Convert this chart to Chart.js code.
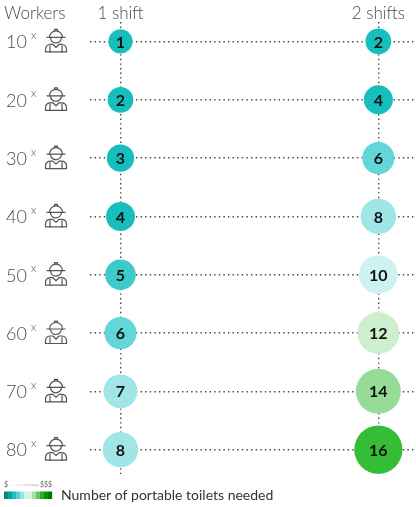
<!DOCTYPE html>
<html>
<head>
<meta charset="utf-8">
<script src="https://cdn.jsdelivr.net/npm/chart.js@4/dist/chart.umd.min.js"></script>
<style>
  html, body { margin: 0; padding: 0; background: #fff; }
  #wrap { width: 416px; height: 507px; }
</style>
</head>
<body>
<div id="wrap"><canvas id="chart" width="416" height="507"></canvas></div>
<script>
const workers = [10, 20, 30, 40, 50, 60, 70, 80];
const shifts = ['1 shift', '2 shifts'];
const toiletsOneShift = [1, 2, 3, 4, 5, 6, 7, 8];
const toiletsTwoShifts = [2, 4, 6, 8, 10, 12, 14, 16];

// colour steps of the legend scale
function fillFor(v) {
  if (v <= 4) return '#17bebe';
  if (v <= 5) return '#3ecaca';
  if (v <= 6) return '#63d7d7';
  if (v <= 8) return '#a0e6e6';
  if (v <= 10) return '#cdf2f2';
  if (v <= 12) return '#cdefcd';
  if (v <= 14) return '#96dc96';
  return '#35bd35';
}
const radiusFor = v => 11.3 + 0.8 * v;
const legendStripes = ['#008a8a', '#00a6a6', '#20bcbc', '#5ccfcf', '#9fe2e2', '#d4f3f3',
  '#d8f2d8', '#a6e0a6', '#62c862', '#27ad27', '#0b930b', '#007a00'];

function makeDataset(col, values) {
  return {
    label: shifts[col - 1],
    data: workers.map((w, i) => ({ x: col, y: w, v: values[i] })),
    pointRadius: values.map(radiusFor),
    pointHoverRadius: values.map(radiusFor),
    pointBackgroundColor: values.map(fillFor),
    pointBorderWidth: 0,
    showLine: false
  };
}

function drawWorker(ctx, cx, cy) {
  ctx.save();
  ctx.strokeStyle = '#555';
  ctx.lineWidth = 1.2;
  ctx.lineJoin = 'round';
  ctx.lineCap = 'round';
  // helmet
  ctx.beginPath();
  ctx.arc(cx, cy - 4, 6.5, Math.PI, 0);
  ctx.stroke();
  ctx.beginPath();
  ctx.moveTo(cx - 1.5, cy - 10.5); ctx.lineTo(cx - 1.5, cy - 12); ctx.lineTo(cx + 1.5, cy - 12); ctx.lineTo(cx + 1.5, cy - 10.5);
  ctx.stroke();
  ctx.beginPath();
  ctx.moveTo(cx - 9, cy - 4); ctx.lineTo(cx + 9, cy - 4);
  ctx.stroke();
  // face
  ctx.beginPath();
  ctx.arc(cx, cy - 4, 5.5, 0.1, Math.PI - 0.1);
  ctx.stroke();
  // body
  ctx.beginPath();
  ctx.moveTo(cx - 10.5, cy + 10.5);
  ctx.lineTo(cx - 10.5, cy + 8);
  ctx.quadraticCurveTo(cx - 10.5, cy + 3.5, cx - 6, cy + 3);
  ctx.lineTo(cx - 3, cy + 3);
  ctx.lineTo(cx, cy + 6);
  ctx.lineTo(cx + 3, cy + 3);
  ctx.lineTo(cx + 6, cy + 3);
  ctx.quadraticCurveTo(cx + 10.5, cy + 3.5, cx + 10.5, cy + 8);
  ctx.lineTo(cx + 10.5, cy + 10.5);
  ctx.closePath();
  ctx.stroke();
  ctx.beginPath();
  ctx.moveTo(cx - 6, cy + 4.5); ctx.lineTo(cx - 6, cy + 10.5);
  ctx.moveTo(cx + 6, cy + 4.5); ctx.lineTo(cx + 6, cy + 10.5);
  ctx.stroke();
  ctx.restore();
}

const decorations = {
  id: 'decorations',
  afterDatasetsDraw(chart) {
    const ctx = chart.ctx;
    const xs = chart.scales.x, ys = chart.scales.y;
    ctx.save();
    // numbers inside circles
    ctx.textAlign = 'center';
    ctx.textBaseline = 'middle';
    ctx.fillStyle = '#111';
    ctx.font = 'bold 16px Lato';
    chart.data.datasets.forEach((ds, di) => {
      chart.getDatasetMeta(di).data.forEach((pt, i) => {
        ctx.fillText(String(ds.data[i].v), pt.x, pt.y + 1);
      });
    });
    // headers
    ctx.fillStyle = '#4a4a4a';
    ctx.font = '300 17px Lato';
    ctx.textAlign = 'left';
    ctx.fillText('Workers', 4, 14);
    ctx.textAlign = 'center';
    shifts.forEach((s, i) => ctx.fillText(s, xs.getPixelForValue(i + 1), 14));
    // row labels and icons
    workers.forEach(w => {
      const y = ys.getPixelForValue(w);
      ctx.fillStyle = '#4a4a4a';
      ctx.textAlign = 'left';
      ctx.font = '300 18px Lato';
      ctx.fillText(String(w), 6, y + 1);
      ctx.font = '300 11px Lato';
      ctx.fillText('x', 31, y - 6);
      drawWorker(ctx, 56, y);
    });
    // legend
    legendStripes.forEach((c, i) => {
      ctx.fillStyle = c;
      ctx.fillRect(4 + i * 4, 491.5, 4.2, 7.5);
    });
    ctx.fillStyle = '#ddd';
    ctx.beginPath();
    ctx.moveTo(9, 485); ctx.lineTo(39, 484); ctx.lineTo(39, 486.5); ctx.closePath();
    ctx.fill();
    ctx.fillStyle = '#666';
    ctx.font = '7px Lato';
    ctx.textAlign = 'left';
    ctx.fillText('$', 4, 485);
    ctx.fillText('$$$', 40, 485);
    ctx.fillStyle = '#333';
    ctx.font = '14px Lato';
    ctx.fillText('Number of portable toilets needed', 61, 495);
    ctx.restore();
  }
};

new Chart(document.getElementById('chart'), {
  type: 'scatter',
  data: { datasets: [makeDataset(1, toiletsOneShift), makeDataset(2, toiletsTwoShifts)] },
  options: {
    responsive: false,
    animation: false,
    layout: { autoPadding: false, padding: { left: 90, top: 22, right: 0, bottom: 33 } },
    plugins: { legend: { display: false }, tooltip: { enabled: false } },
    scales: {
      x: {
        type: 'linear',
        min: 0.8817,
        max: 2.146,
        afterBuildTicks: s => { s.ticks = [{ value: 1 }, { value: 2 }]; },
        ticks: { display: false },
        grid: { color: '#444', lineWidth: 1.4, drawTicks: false },
        border: { display: false, dash: [1.4, 3.2] }
      },
      y: {
        type: 'linear',
        reverse: true,
        min: 6.66,
        max: 84.18,
        afterBuildTicks: s => { s.ticks = workers.map(w => ({ value: w })); },
        ticks: { display: false },
        grid: { color: '#444', lineWidth: 1.4, drawTicks: false },
        border: { display: false, dash: [1.4, 3.2] }
      }
    }
  },
  plugins: [decorations]
});
</script>
</body>
</html>
